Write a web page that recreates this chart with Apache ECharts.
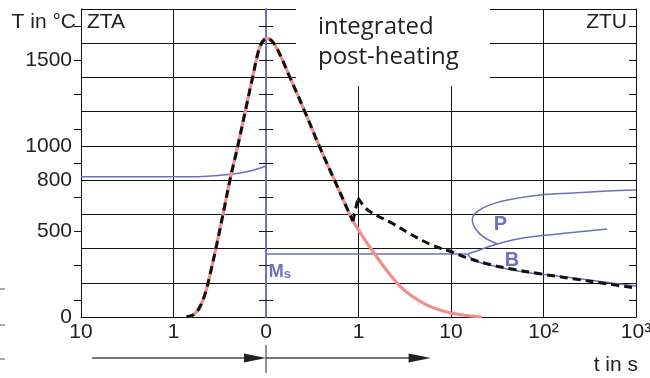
<!DOCTYPE html>
<html>
<head>
<meta charset="utf-8">
<script src="https://cdn.jsdelivr.net/npm/echarts@6/dist/echarts.min.js"></script>
<style>
html, body { margin: 0; padding: 0; background: #fff; }
#chart { width: 650px; height: 378px; }
</style>
</head>
<body>
<div id="chart"></div>
<script>
// x is in "decade units": -2..0 is the ZTA side (10, 1, 0), 0..4 the ZTU side (1 .. 10^3)
var xTickLabels = ['10', '1', '0', '1', '10', '10²', '10³'];
var yLabelValues = [0, 500, 800, 1000, 1500];
var yMinorTicks = [100, 300, 500, 700, 900, 1100, 1300, 1500, 1700];

// thermal cycle, shared by red and black until the re-heating kink
var heatCool = [
	[-0.86, 0], [-0.78, 15], [-0.714, 60], [-0.65, 150], [-0.6, 260], [-0.53, 430],
	[-0.465, 600], [-0.39, 800], [-0.305, 1000], [-0.225, 1200], [-0.145, 1400],
	[-0.065, 1580], [0.01, 1630], [0.097, 1590], [0.259, 1400], [0.42, 1200],
	[0.575, 1000], [0.74, 800], [0.905, 600], [0.94, 560]
];
var redTail = [[0.94, 560], [1.146, 390], [1.449, 180], [1.72, 75], [2.01, 22], [2.335, 0]];
var reheatJump = [[0.94, 560], [0.995, 696]];
var reheatCool = [
	[0.995, 696], [1.1, 625], [1.36, 549], [1.58, 479], [1.79, 421], [2.01, 380],
	[2.18, 345], [2.44, 304], [2.66, 280], [2.98, 251], [3.34, 222], [3.7, 193], [3.99, 170]
];

// transformation lines (blue)
var ac3Line = [[-2, 820], [-0.8, 820], [-0.5, 828], [-0.3, 840], [-0.15, 856], [0, 882]];
var msLine = [[0, 368], [2.18, 368]];
var pUpper = [
	[2.5, 427], [2.35, 468], [2.26, 520], [2.23, 567], [2.28, 614], [2.42, 655],
	[2.61, 684], [2.96, 713], [3.32, 725], [3.69, 736], [4.0, 742]
];
var pLower = [[2.18, 368], [2.31, 392], [2.5, 427], [2.78, 462], [3.15, 485], [3.69, 514]];
var bLower = [[2.18, 368], [2.24, 333], [2.42, 304], [2.78, 263], [3.15, 240], [3.5, 216], [4.0, 181]];

var notes = [
	{ text: 'P', at: [2.535, 543] },
	{ text: 'B', at: [2.66, 333] }
];
var msAt = [0.03, 269];
var arrowLeft = [-1.88, 0];
var arrowRight = [0, 1.78];

var BLUE = '#6a70c2';
var INK = '#111';
var TXT = '#222';

var myChart = echarts.init(document.getElementById('chart'));

function yAx(extra) {
	return Object.assign({
		type: 'value', min: 0, max: 1800, interval: 200,
		splitLine: { show: false },
		axisLabel: { show: false },
		axisTick: { show: false },
		axisLine: { show: true, onZero: false, lineStyle: { color: INK, width: 1 } }
	}, extra);
}

// ticks only at the odd hundreds (the even ones sit on grid lines)
function tickAx(pos, inside, onZero) {
	return yAx({
		position: pos, z: 1,
		axisLine: onZero
			? { show: true, onZero: true, onZeroAxisIndex: 0, lineStyle: { color: BLUE, width: 1.5 } }
			: { show: true, onZero: false, lineStyle: { color: INK, width: 1 } },
		axisTick: { show: true, inside: inside, customValues: yMinorTicks, length: 7, lineStyle: { color: INK, width: 1 } }
	});
}

function lineSeries(data, color, width, type, z) {
	return {
		type: 'line', data: data, showSymbol: false, smooth: 0.35, z: z || 2,
		lineStyle: { color: color, width: width, type: type || 'solid' },
		silent: true, animation: false
	};
}

var option = {
	animation: false,
	grid: { left: 81, right: 14, top: 9, bottom: 61, outerBoundsMode: 'none' },
	xAxis: {
		type: 'value', min: -2, max: 4, interval: 1,
		axisLine: { onZero: false, lineStyle: { color: INK, width: 1 } },
		axisTick: { show: false },
		splitLine: { show: true, lineStyle: { color: INK, width: 1 } },
		axisLabel: {
			margin: 5, color: TXT, fontSize: 21, fontFamily: 'Liberation Sans',
			formatter: function (v) { return xTickLabels[Math.round(v) + 2]; }
		}
	},
	yAxis: [
		yAx({
			position: 'left',
			splitLine: { show: true, lineStyle: { color: INK, width: 1 } },
			axisLabel: {
				show: true, customValues: yLabelValues, margin: 9, color: TXT,
				fontSize: 21, fontFamily: 'Liberation Sans',
				formatter: function (v) { return String(v); }
			}
		}),
		tickAx('left', false, false),
		tickAx('right', true, false),
		tickAx('left', false, true),
		tickAx('left', true, true)
	],
	series: [
		lineSeries(ac3Line, BLUE, 1.5),
		lineSeries(msLine, BLUE, 1.5),
		lineSeries(pUpper, BLUE, 1.5),
		lineSeries(pLower, BLUE, 1.5),
		lineSeries(bLower, BLUE, 1.5),
		lineSeries(heatCool, '#f28e8e', 3.2, 'solid', 3),
		lineSeries(redTail, '#f28e8e', 3.2, 'solid', 3),
		lineSeries(heatCool, '#111', 3, [8, 5], 4),
		lineSeries(reheatJump, '#111', 3, [8, 5], 4),
		lineSeries(reheatCool, '#111', 3, [8, 5], 4)
	]
};
myChart.setOption(option);

function px(p) { return myChart.convertToPixel({ xAxisIndex: 0, yAxisIndex: 0 }, p); }
function pxX(u) { return myChart.convertToPixel({ xAxisIndex: 0 }, u); }

var g = [];
// white box behind the "integrated post-heating" note
g.push({ type: 'rect', z: 1, shape: { x: 296, y: 0, width: 194, height: 86 }, style: { fill: '#fff' } });
g.push({
	type: 'text', z: 5, left: 318, top: 12,
	style: { text: 'integrated\npost-heating', fill: TXT, font: '24px "Open Sans"', lineHeight: 30 }
});
g.push({ type: 'text', z: 5, style: { text: 'T in °C', x: 76, y: 33, fill: TXT, font: '21px "Liberation Sans"', align: 'right', verticalAlign: 'bottom' } });
g.push({ type: 'text', z: 5, style: { text: 'ZTA', x: 87, y: 33, fill: TXT, font: '21px "Liberation Sans"', align: 'left', verticalAlign: 'bottom' } });
g.push({ type: 'text', z: 5, style: { text: 'ZTU', x: 627, y: 33, fill: TXT, font: '21px "Liberation Sans"', align: 'right', verticalAlign: 'bottom' } });
g.push({ type: 'text', z: 5, style: { text: 't in s', x: 638, y: 376, fill: TXT, font: '21px "Liberation Sans"', align: 'right', verticalAlign: 'bottom' } });

notes.forEach(function (n) {
	var p = px(n.at);
	g.push({ type: 'text', z: 5, style: { text: n.text, x: p[0], y: p[1], fill: BLUE, font: 'bold 20px "Liberation Sans"', align: 'center', verticalAlign: 'middle' } });
});
var m = px(msAt);
g.push({
	type: 'text', z: 5,
	style: {
		text: '{m|M}{s|s}', x: m[0], y: m[1], align: 'left', verticalAlign: 'middle',
		rich: {
			m: { fill: BLUE, font: 'bold 18px "Liberation Sans"', verticalAlign: 'bottom', lineHeight: 20 },
			s: { fill: BLUE, font: 'bold 13px "Liberation Sans"', verticalAlign: 'bottom', lineHeight: 16 }
		}
	}
});

// time arrows under the axis
var arrowY = 358;
function arrow(a, b) {
	var x1 = pxX(a), x2 = pxX(b);
	g.push({ type: 'line', z: 5, shape: { x1: x1, y1: arrowY, x2: x2 - 18, y2: arrowY }, style: { stroke: '#444', lineWidth: 1.5 } });
	g.push({ type: 'polygon', z: 5, shape: { points: [[x2 - 22, arrowY - 4.5], [x2, arrowY], [x2 - 22, arrowY + 4.5]] }, style: { fill: '#222' } });
}
arrow(arrowLeft[0], arrowLeft[1]);
arrow(arrowRight[0], arrowRight[1]);
var x0 = pxX(0);
g.push({ type: 'line', z: 5, shape: { x1: x0, y1: 345, x2: x0, y2: 373 }, style: { stroke: '#222', lineWidth: 1 } });
// little cut-off marks at the left edge
[289, 325, 359].forEach(function (y) {
	g.push({ type: 'line', z: 5, shape: { x1: 0, y1: y, x2: 5, y2: y }, style: { stroke: '#555', lineWidth: 1 } });
});

myChart.setOption({ graphic: g });
</script>
</body>
</html>
